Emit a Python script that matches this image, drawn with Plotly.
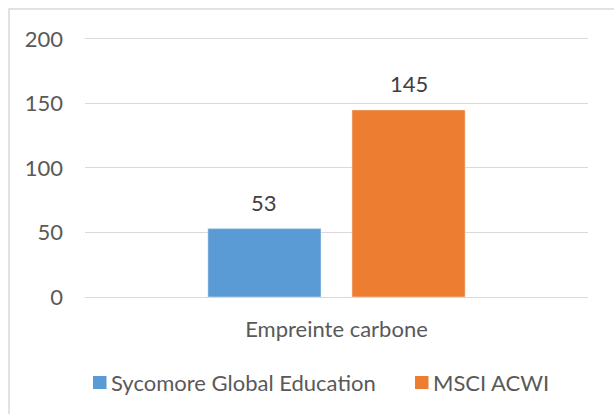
import plotly.graph_objects as go

categories = ["Empreinte carbone"]
series_names = ["Sycomore Global Education", "MSCI ACWI"]
series_values = [[53], [145]]
series_colors = ["#5B9BD5", "#ED7D31"]
y_ticks = [0, 50, 100, 150, 200]

W, H = 614, 414
L, R, T, B = 85, 26, 36, 117
pw, ph = W - L - R, H - T - B
FONT = "Lato, Noto Sans, sans-serif"
FS = 22
TXT = "#595959"

bargap, groupgap = 0.427, 0.215
slot_px = pw * (1 - bargap) / len(series_names)

fig = go.Figure()
annotations = []
shapes = []
for i, (name, vals, col) in enumerate(zip(series_names, series_values, series_colors)):
    fig.add_trace(go.Bar(x=categories, y=vals, name=name, marker_color=col,
                         showlegend=False))
    off = (i - (len(series_names) - 1) / 2) * slot_px
    for c, v in zip(categories, vals):
        annotations.append(dict(x=c, y=v, xref="x", yref="y", text=str(v),
                                showarrow=False, xshift=off, yshift=11,
                                yanchor="bottom",
                                font=dict(family=FONT, size=FS, color="#404040")))

# custom legend (Excel-style)
leg_sw_x = [93, 415]
leg_y = 382.5
for name, col, sx in zip(series_names, series_colors, leg_sw_x):
    shapes.append(dict(type="rect", xref="paper", yref="paper",
                       x0=(sx - L) / pw, x1=(sx + 13.5 - L) / pw,
                       y0=(H - B - (leg_y + 6.5)) / ph, y1=(H - B - (leg_y - 6.5)) / ph,
                       fillcolor=col, line=dict(width=0)))
    annotations.append(dict(x=(sx + 16 - L) / pw, y=(H - B - leg_y) / ph,
                            xref="paper", yref="paper", xanchor="left",
                            yanchor="middle", showarrow=False, text=name,
                            font=dict(family=FONT, size=FS, color=TXT)))

# chart area border
shapes.append(dict(type="rect", xref="paper", yref="paper",
                   x0=(9 - L) / pw, x1=2, y0=-2, y1=(H - B - 9) / ph,
                   line=dict(color="#D9D9D9", width=1.5), layer="below"))

fig.update_layout(
    width=W, height=H,
    margin=dict(l=L, r=R, t=T, b=B, autoexpand=False),
    paper_bgcolor="white", plot_bgcolor="white",
    font=dict(family=FONT, size=FS, color=TXT),
    barmode="group", bargap=bargap, bargroupgap=groupgap,
    showlegend=False,
    yaxis=dict(range=[0, 202.3], tickvals=y_ticks, showgrid=True,
               gridcolor="#D9D9D9", gridwidth=1, zeroline=False,
               showline=False, ticks="", ticklabelstandoff=21,
               tickfont=dict(family=FONT, size=FS, color=TXT)),
    xaxis=dict(showline=True, linecolor="#D9D9D9", linewidth=1, ticks="",
               ticklabelstandoff=13,
               tickfont=dict(family=FONT, size=FS, color=TXT)),
    annotations=annotations,
    shapes=shapes,
)

fig.write_html("out.html", config={"displayModeBar": False},
               post_script="document.body.style.margin='0';document.body.style.overflow='hidden';")
